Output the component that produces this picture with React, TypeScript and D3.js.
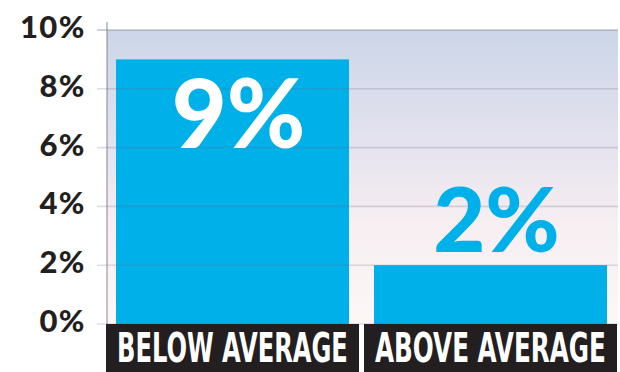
import React, { useLayoutEffect, useRef } from "react";
import * as d3 from "d3";

const categories = ["BELOW AVERAGE", "ABOVE AVERAGE"];
const values = [9, 2];
const valueLabels = ["9%", "2%"];
const yTicks = [0, 2, 4, 6, 8, 10];
const yTickLabels = ["0%", "2%", "4%", "6%", "8%", "10%"];

const W = 620;
const H = 372;

function FitText(props: {
  x: number;
  y: number;
  width: number;
  fontFamily: string;
  fontSize: number;
  fill: string;
  children: string;
}) {
  const ref = useRef<SVGTextElement>(null);
  useLayoutEffect(() => {
    const el = ref.current;
    if (!el) return;
    el.removeAttribute("transform");
    const natural = el.getComputedTextLength();
    const sx = natural > 0 ? props.width / natural : 1;
    el.setAttribute(
      "transform",
      `translate(${props.x},${props.y}) scale(${sx},1)`
    );
  });
  return (
    <text
      ref={ref}
      x={0}
      y={0}
      transform={`translate(${props.x},${props.y}) scale(0.7,1)`}
      fontFamily={props.fontFamily}
      fontWeight={700}
      fontSize={props.fontSize}
      fill={props.fill}
    >
      {props.children}
    </text>
  );
}

export default function App() {
  const y = d3.scaleLinear().domain([0, 10]).range([324, 30]);
  const x = d3
    .scaleBand<string>()
    .domain(categories)
    .range([106, 617])
    .paddingInner(5 / 258)
    .paddingOuter(0);
  const bw = x.bandwidth();
  const inset = 10;
  const plotLeft = 107;
  const plotRight = 618;
  const bigFont = "Lato, 'Open Sans', sans-serif";
  const labelFont = "'Liberation Sans Narrow', 'DejaVu Sans Condensed', 'Liberation Sans', sans-serif";

  return (
    <svg
      width={W}
      height={H}
      style={{ position: "absolute", left: 0, top: 0, background: "#fff" }}
    >
      <defs>
        <linearGradient id="bg" x1="0" y1="0" x2="0" y2="1">
          <stop offset="0" stopColor="#ccd6e8" />
          <stop offset="0.35" stopColor="#e2e1ee" />
          <stop offset="0.65" stopColor="#f6eef1" />
          <stop offset="1" stopColor="#fdf7f6" />
        </linearGradient>
      </defs>
      <rect
        x={plotLeft}
        y={y(10)}
        width={plotRight - plotLeft}
        height={y(0) - y(10)}
        fill="url(#bg)"
      />
      {categories.map((c, i) => (
        <rect
          key={c}
          x={(x(c) as number) + inset}
          y={y(values[i])}
          width={bw - inset * 2}
          height={y(0) - y(values[i])}
          fill="#00b0e8"
        />
      ))}
      {yTicks.map((t) => (
        <line
          key={t}
          x1={97}
          x2={plotRight}
          y1={y(t)}
          y2={y(t)}
          stroke={t === 10 ? "rgba(120,120,135,0.45)" : "rgba(100,100,140,0.22)"}
          strokeWidth={1.6}
        />
      ))}
      <line
        x1={plotLeft}
        x2={plotLeft}
        y1={22}
        y2={y(0)}
        stroke="rgba(110,110,130,0.6)"
        strokeWidth={1.4}
      />
      {yTicks.map((t, i) => (
        <text
          key={t}
          x={86}
          y={y(t) + 8}
          textAnchor="end"
          fontFamily={bigFont}
          fontWeight={900}
          fontSize={31}
          letterSpacing={1.5}
          fill="#231f20"
        >
          {yTickLabels[i]}
        </text>
      ))}
      {categories.map((c, i) => {
        const cx = (x(c) as number) + bw / 2 + 6;
        const inside = values[i] > 5;
        return (
          <text
            key={c + "v"}
            x={cx}
            y={inside ? 148 : y(values[i]) - 13}
            textAnchor="middle"
            fontFamily={bigFont}
            fontWeight={900}
            fontSize={inside ? 95 : 90}
            fill={inside ? "#ffffff" : "#00b0e8"}
          >
            {valueLabels[i]}
          </text>
        );
      })}
      {categories.map((c) => (
        <g key={c + "l"}>
          <rect x={x(c) as number} y={y(0)} width={bw} height={H - y(0)} fill="#231f20" />
          <FitText
            x={(x(c) as number) + 11}
            y={362}
            width={bw - 22}
            fontFamily={labelFont}
            fontSize={41}
            fill="#ffffff"
          >
            {c}
          </FitText>
        </g>
      ))}
    </svg>
  );
}
